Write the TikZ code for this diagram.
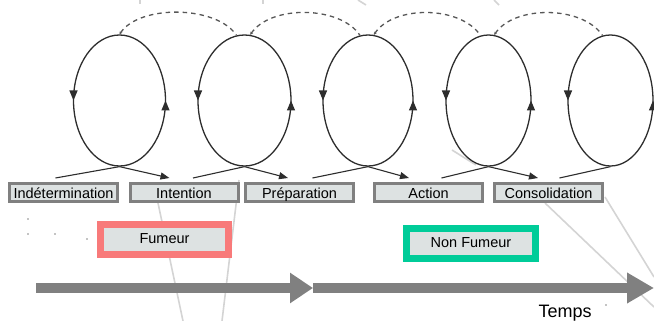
\documentclass[tikz,border=0pt]{standalone}
\usepackage{fontspec}
\setmainfont{Liberation Sans}
\definecolor{loopgray}{RGB}{45,45,45}
\definecolor{boxgray}{RGB}{128,128,128}
\definecolor{boxfill}{RGB}{221,226,226}
\definecolor{smokerred}{RGB}{248,122,122}
\definecolor{quitgreen}{RGB}{0,204,153}
\definecolor{ghostgray}{RGB}{212,212,212}
\usetikzlibrary{shapes.geometric,arrows.meta,positioning,calc,decorations.markings}

\tikzset{
    stagebox/.style={draw=boxgray, fill=boxfill, line width=3pt, minimum width=108pt,
        minimum height=18pt, inner sep=0pt, text height=12pt, text depth=0pt,
        font=\fontsize{14.5}{16}\selectfont},
    statusbox/.style={fill=boxfill, line width=7pt, minimum width=128.5pt,
        minimum height=30pt, inner sep=0pt, text height=10.5pt, text depth=3.5pt,
        font=\fontsize{14.5}{16}\selectfont},
    stageloop/.style={ellipse, draw=loopgray, line width=1.3pt, minimum height=131pt,
        inner sep=0pt,
        postaction={decorate, decoration={markings,
            mark=at position 0 with {\arrow{Triangle[length=10pt,width=8pt]}},
            mark=at position 0.5 with {\arrow{Triangle[length=10pt,width=8pt]}}}}},
    feed/.style={draw=loopgray, line width=1.1pt},
    hop/.style={draw=loopgray!80, line width=1.3pt, dash pattern=on 4.5pt off 4pt},
    timearrow/.style={draw=boxgray, line width=10pt},
    ghost/.style={draw=ghostgray, line width=1.6pt}
}

\begin{document}
\begin{tikzpicture}[x=1pt, y=-1pt]
    \useasboundingbox (0,0) rectangle (654,321);

    % Faint background strokes
    \draw[ghost] (158,203) -- (183,321);
    \draw[ghost] (239,180) -- (222,321);
    \draw[ghost] (545,203) -- (654,307);
    \draw[ghost] (605,197) -- (654,277);
    \draw[ghost] (452,150) -- (476,165);
    \draw[ghost] (140,0) -- (140,4);
    \draw[ghost] (263,0) -- (263,4);
    \draw[ghost] (358,0) -- (366,5);
    \draw[ghost] (494,0) -- (499,5);
    \foreach \p in {(28,219),(28,234),(55,234),(87,239),(605,292),(606,305)}
        \fill \p circle (0.6);

    % Loops
    \node[stageloop, minimum width=92pt] (c1) at (119.5,100.5) {};
    \node[stageloop, minimum width=93pt] (c2) at (244.5,100.5) {};
    \node[stageloop, minimum width=90pt] (c3) at (368,100.5) {};
    \node[stageloop, minimum width=85pt] (c4) at (488.5,100.5) {};
    \node[stageloop, minimum width=85pt] (c5) at (610.5,100.5) {};

    % Stages
    \node[stagebox] (s1) at (63.5,192.5) {Indétermination};
    \node[stagebox] (s2) at (184,192.5) {Intention};
    \node[stagebox] (s3) at (299.5,192.5) {Préparation};
    \node[stagebox] (s4) at (428.5,192.5) {Action};
    \node[stagebox] (s5) at (548.5,192.5) {Consolidation};

    % Links below the loops
    \draw[feed] (c1.south) -- ($(s1.north)+(-8,-4)$);
    \draw[feed, -{Triangle[length=9pt,width=7pt]}] (c1.south) -- ($(s2.north west)+(41,-4)$);
    \draw[feed] (c2.south) -- ($(s2.north)+(9,-4)$);
    \draw[feed, -{Triangle[length=9pt,width=7pt]}] (c2.south) -- ($(s3.north west)+(44,-4)$);
    \draw[feed] (c3.south) -- ($(s3.north)+(13,-4)$);
    \draw[feed, -{Triangle[length=9pt,width=7pt]}] (c3.south) -- ($(s4.north west)+(36,-4)$);
    \draw[feed] (c4.south) -- ($(s4.north)+(13,-4)$);
    \draw[feed, -{Triangle[length=9pt,width=7pt]}] (c4.south) -- ($(s5.north west)+(45,-4)$);
    \draw[feed] (c5.south) -- ($(s5.north)+(11,-4)$);

    % Dashed hops over the top
    \draw[hop, {Stealth[length=3pt,width=3pt]}-] (c1.north) .. controls +(20,-30) and +(-20,-30) .. (c2.97);
    \draw[hop, {Stealth[length=3pt,width=3pt]}-] (c2.85) .. controls +(20,-30) and +(-20,-30) .. (c3.97);
    \draw[hop, {Stealth[length=3pt,width=3pt]}-] (c3.85) .. controls +(20,-30) and +(-20,-30) .. (c4.97);
    \draw[hop, {Stealth[length=3pt,width=3pt]}-] (c4.85) .. controls +(20,-30) and +(-20,-30) .. (c5.97);

    % Status
    \node[statusbox, draw=smokerred] (fumeur) at (164.5,239.5) {Fumeur};
    \node[statusbox, draw=quitgreen] (nonfumeur) at (471,243.5) {Non Fumeur};

    % Time axis
    \coordinate (t0) at (36,288);
    \coordinate (t1) at (313,288);
    \coordinate (t2) at (654,288);
    \draw[timearrow, -{Triangle[length=27pt,width=29pt]}] (t1) -- (t2);
    \draw[timearrow, -{Triangle[length=23pt,width=29pt]}] (t0) -- (t1);
    \node[anchor=base west, font=\fontsize{18}{20}\selectfont] (temps) at (535,317) {Temps};
\end{tikzpicture}
\end{document}
